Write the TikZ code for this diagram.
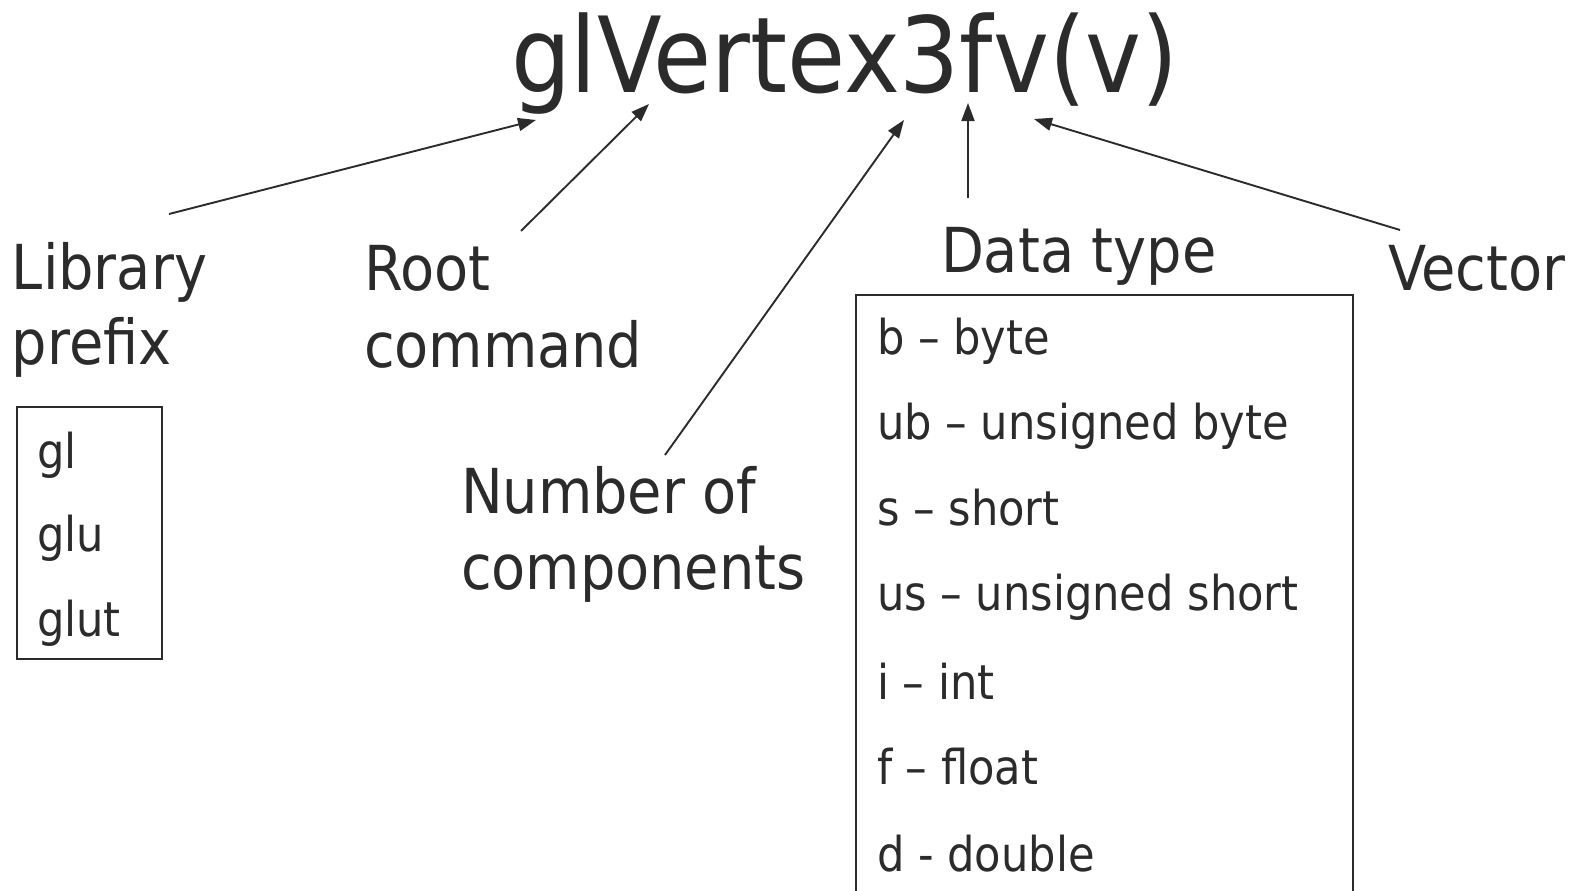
\documentclass[tikz,border=0pt]{standalone}
\usepackage{fontspec}
\setmainfont{DejaVu Sans Condensed}
\usetikzlibrary{arrows.meta}
\definecolor{ink}{HTML}{2B2B2B}
\tikzset{
  txt/.style={anchor=base west,inner sep=0pt,outer sep=0pt,text=ink},
  big/.style={txt,font=\fontsize{105}{110}\selectfont},
  lab/.style={txt,font=\fontsize{62}{75}\selectfont},
  item/.style={txt,font=\fontsize{48}{55}\selectfont},
  conn/.style={draw=ink,line width=1.9pt,-{Triangle[length=18pt,width=13pt]}},
  frame/.style={draw=ink,line width=1.5pt}
}
\begin{document}
\begin{tikzpicture}[x=1pt,y=-1pt]
\path[use as bounding box] (0,0) rectangle (1577,891);
\node[big] (title) at (511,92.5) {glVertex3fv(v)};
\node[lab] (lib1) at (12,289) {Library};
\node[lab] (lib2) at (12,364) {prefix};
\node[lab] (root1) at (364,290) {Root};
\node[lab] (root2) at (364,367) {command};
\node[lab] (num1) at (461,513) {Number of};
\node[lab] (num2) at (461,589) {components};
\node[lab] (dt) at (941,272) {Data type};
\node[lab] (vec) at (1388,290) {Vector};
% gl box
\draw[frame] (17,407) rectangle (162,659);
\node[item] (g1) at (37,468) {gl};
\node[item] (g2) at (37,551) {glu};
\node[item] (g3) at (37,636) {glut};
% data type box
\draw[frame] (856,895) -- (856,295) -- (1353,295) -- (1353,895);
\node[item] (d1) at (877,354) {b – byte};
\node[item] (d2) at (877,439) {ub – unsigned byte};
\node[item] (d3) at (877,525) {s – short};
\node[item] (d4) at (877,610) {us – unsigned short};
\node[item] (d5) at (877,699) {i – int};
\node[item] (d6) at (877,784) {f – float};
\node[item] (d7) at (877,871) {d - double};
% arrows
\coordinate (a1s) at (169,214); \coordinate (a1e) at (536,120);
\coordinate (a2s) at (521,231); \coordinate (a2e) at (649,104);
\coordinate (a3s) at (665,455); \coordinate (a3e) at (904,120);
\coordinate (a4s) at (968,198); \coordinate (a4e) at (968,103);
\coordinate (a5s) at (1400,230); \coordinate (a5e) at (1034,119);
\draw[conn] (a1s) -- (a1e);
\draw[conn] (a2s) -- (a2e);
\draw[conn] (a3s) -- (a3e);
\draw[conn] (a4s) -- (a4e);
\draw[conn] (a5s) -- (a5e);
\end{tikzpicture}
\end{document}
